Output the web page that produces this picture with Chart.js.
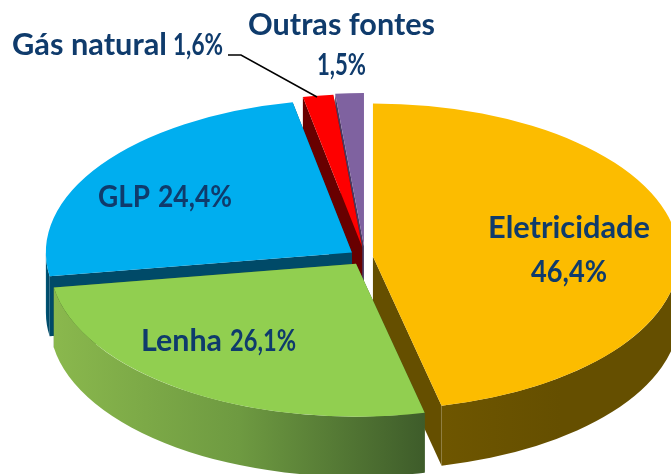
<!DOCTYPE html>
<html>
<head>
<meta charset="utf-8">
<style>html,body{margin:0;padding:0;background:#fff}canvas{display:block}</style>
<script src="https://cdn.jsdelivr.net/npm/chart.js@4"></script>
</head>
<body>
<canvas id="c" width="671" height="474"></canvas>
<script>
const categories = ['Eletricidade', 'Lenha', 'GLP', 'Gás natural', 'Outras fontes'];
const values = [46.4, 26.1, 24.4, 1.6, 1.5];

const topColors = ['#FCBC00', '#91CF50', '#00AEEF', '#FE0000', '#7F62A0'];
const wallColors = ['#654F00', '#3F5F2A', '#004A68', '#680000', '#4A3A60'];
const wallGradients = [['#6E5600', '#654F00', '#654F00'], ['#8AB84D', '#6E9A41', '#3E5C2A'], ['#005A7C', '#004A68', '#004A68'], ['#680000', '#680000', '#680000'], ['#4A3A60', '#4A3A60', '#4A3A60']];
const explode = [8, 16, 16, 20, 22];
const paintOrder = [4, 3, 2, 0, 1];
const squash = 0.5;
const depth = 60;
const textColor = '#0F3B6C';
const fontFamily = 'Lato, "Open Sans", sans-serif';

const fmt = v => v.toFixed(1).replace('.', ',') + '%';
// x, baseline and fitted width of each label's name run and value run
const labelLayout = [
  {name: [488, 238, 162], pct: [531, 282, 76]},
  {name: [141, 351, 81], pct: [230, 351, 66]},
  {name: [98, 207, 52], pct: [158, 207, 74]},
  {name: [12, 55, 155], pct: [173, 55, 50]},
  {name: [248, 35, 187], pct: [317, 75, 49]}
];
const leader = [[228, 55], [241, 55], [317, 97]];

function walls(ctx, arc, i) {
  const mid = (arc.startAngle + arc.endAngle) / 2;
  const cx = arc.x + Math.cos(mid) * explode[i];
  const cy = arc.y + Math.sin(mid) * explode[i] * squash;
  const R = arc.outerRadius, r = R * squash;
  ctx.fillStyle = wallColors[i];
  [arc.startAngle, arc.endAngle].forEach(a => {
    const ex = cx + Math.cos(a) * R, ey = cy + Math.sin(a) * r;
    ctx.beginPath();
    ctx.moveTo(cx, cy);
    ctx.lineTo(ex, ey);
    ctx.lineTo(ex, ey + depth);
    ctx.lineTo(cx, cy + depth);
    ctx.closePath();
    ctx.fill();
  });
  const a0 = Math.max(arc.startAngle, 0), a1 = Math.min(arc.endAngle, Math.PI);
  if (a1 > a0) {
    const x0 = cx + Math.cos(a1) * R, x1 = cx + Math.cos(a0) * R;
    const g = ctx.createLinearGradient(x0, 0, x1, 0);
    const stops = wallGradients[i];
    stops.forEach((c, k) => g.addColorStop(k / (stops.length - 1), c));
    ctx.fillStyle = g;
    ctx.beginPath();
    ctx.ellipse(cx, cy, R, r, 0, a0, a1);
    ctx.ellipse(cx, cy + depth, R, r, 0, a1, a0, true);
    ctx.closePath();
    ctx.fill();
  }
}

const pie3d = {
  id: 'pie3d',
  beforeDatasetDraw(chart, args) {
    const ctx = chart.ctx, arcs = args.meta.data;
    paintOrder.forEach(i => {
      const arc = arcs[i];
      walls(ctx, arc, i);
      const mid = (arc.startAngle + arc.endAngle) / 2;
      ctx.save();
      ctx.translate(arc.x + Math.cos(mid) * explode[i], arc.y + Math.sin(mid) * explode[i] * squash);
      ctx.scale(1, squash);
      ctx.translate(-arc.x, -arc.y);
      arc.draw(ctx);
      ctx.restore();
    });
    return false;
  },
  afterDatasetsDraw(chart) {
    const ctx = chart.ctx;
    ctx.save();
    ctx.strokeStyle = '#000';
    ctx.lineWidth = 1.5;
    ctx.beginPath();
    leader.forEach((p, k) => k ? ctx.lineTo(p[0], p[1]) : ctx.moveTo(p[0], p[1]));
    ctx.stroke();
    ctx.fillStyle = textColor;
    ctx.textBaseline = 'alphabetic';
    ctx.textAlign = 'left';
    labelLayout.forEach((l, i) => {
      ctx.font = 'bold 31px ' + fontFamily;
      ctx.fillText(categories[i], l.name[0], l.name[1], l.name[2]);
      ctx.font = 'bold 30px ' + fontFamily;
      ctx.fillText(fmt(values[i]), l.pct[0], l.pct[1], l.pct[2]);
    });
    ctx.restore();
  }
};

new Chart(document.getElementById('c'), {
  type: 'pie',
  data: {
    labels: categories,
    datasets: [{
      data: values,
      backgroundColor: topColors,
      borderWidth: 0,
      radius: 306,
      clip: false
    }]
  },
  options: {
    responsive: false,
    animation: false,
    layout: {padding: {left: 59, top: 40, right: 0, bottom: 0}},
    plugins: {legend: {display: false}, tooltip: {enabled: false}}
  },
  plugins: [pie3d]
});
</script>
</body>
</html>
